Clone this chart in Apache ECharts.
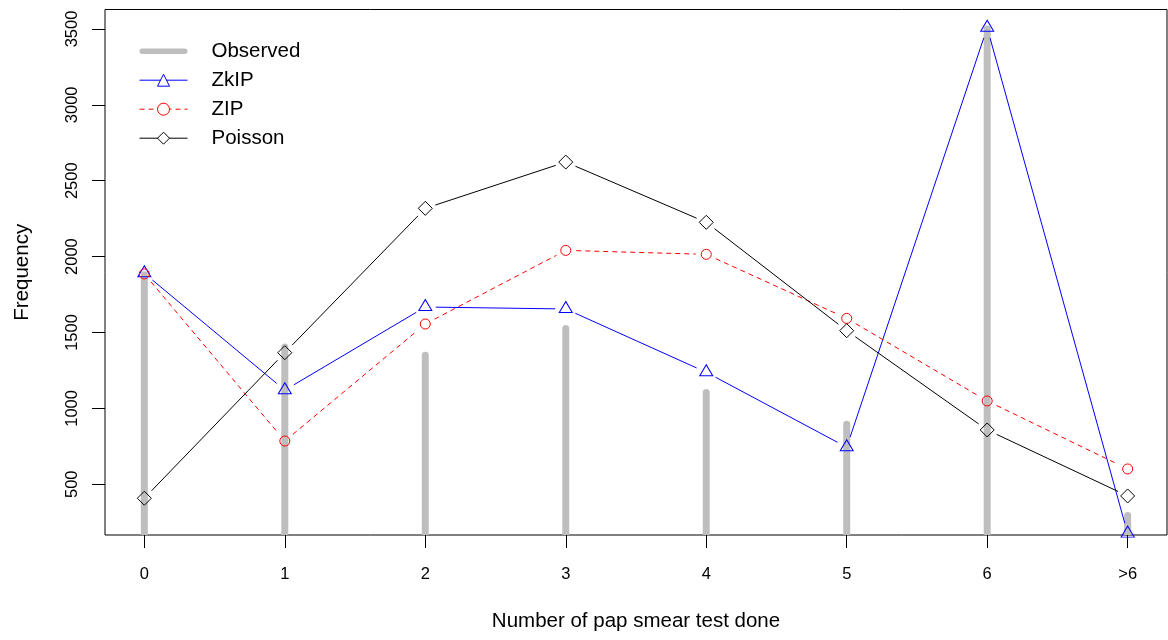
<!DOCTYPE html>
<html>
<head>
<meta charset="utf-8">
<script src="https://cdn.jsdelivr.net/npm/echarts@6/dist/echarts.min.js"></script>
<style>
  html, body { margin: 0; padding: 0; background: #fff; }
  #chart { width: 1168px; height: 640px; }
</style>
</head>
<body>
<div id="chart"></div>
<script>
// Number of pap smear tests: observed counts and fitted frequencies
const categories = ['0', '1', '2', '3', '4', '5', '6', '>6'];
const observed = [1880, 1405, 1350, 1526, 1105, 896, 3500, 294];
const zkip     = [1890, 1120, 1668, 1655, 1238, 744, 3508, 175];
const zip      = [1886, 785, 1556, 2041, 2015, 1593, 1049, 601];
const poisson  = [408, 1367, 2318, 2623, 2226, 1512, 858, 423];
const yTicks   = [500, 1000, 1500, 2000, 2500, 3000, 3500];

const FONT = "'Liberation Sans', Arial, Helvetica, sans-serif";
const GRAY = '#BEBEBE';
const BLUE = '#0000FF';
const RED = '#FF0000';
const BLACK = '#000000';
const GAP = 10.5;           // gap left around each marker by the connecting lines

// y range: observed range padded 4% on both ends
const obsMin = Math.min(...observed), obsMax = Math.max(...observed);
const pad = 0.04 * (obsMax - obsMin);
const yMin = obsMin - pad, yMax = obsMax + pad;
const xIdx = categories.map((_, i) => i);

const pairs = vals => vals.map((v, i) => [i, v]);

// segments between consecutive points, shortened so they stop short of the markers
function gapLines(vals, color, dash) {
  return {
    type: 'custom',
    silent: true,
    clip: true,
    z: 3,
    data: pairs(vals),
    renderItem(params, api) {
      const i = params.dataIndex;
      if (i >= vals.length - 1) return null;
      const a = api.coord([i, vals[i]]);
      const b = api.coord([i + 1, vals[i + 1]]);
      const dx = b[0] - a[0], dy = b[1] - a[1];
      const len = Math.hypot(dx, dy);
      if (len <= 2 * GAP) return null;
      const ux = dx / len, uy = dy / len;
      return {
        type: 'line',
        shape: { x1: a[0] + ux * GAP, y1: a[1] + uy * GAP, x2: b[0] - ux * GAP, y2: b[1] - uy * GAP },
        style: { stroke: color, lineWidth: 1, lineDash: dash || null, fill: null }
      };
    }
  };
}

function markers(name, vals, symbol, size, color, offset) {
  return {
    type: 'line',
    name: name,
    data: pairs(vals),
    symbol: symbol,
    symbolSize: size,
    symbolOffset: offset || [0, 0],
    showAllSymbol: true,
    silent: true,
    z: 4,
    itemStyle: { color: 'rgba(0,0,0,0)', borderColor: color, borderWidth: 1 },
    lineStyle: { opacity: 0 }
  };
}

const chart = echarts.init(document.getElementById('chart'), null, { renderer: 'canvas' });

chart.setOption({
  animation: false,
  backgroundColor: '#fff',
  textStyle: { fontFamily: FONT },
  grid: {
    left: 105, right: 1, top: 9.5, bottom: 105,
    show: true, borderColor: BLACK, borderWidth: 1, backgroundColor: 'transparent'
  },
  legend: {
    orient: 'vertical',
    left: 139, top: 40.7,
    padding: 0,
    itemWidth: 48, itemHeight: 15, itemGap: 8,
    selectedMode: false,
    textStyle: { fontFamily: FONT, fontSize: 20.5, color: BLACK, lineHeight: 20, padding: [0, 0, 0, 19] },
    data: [
      { name: 'Observed', icon: 'path://M3,0H49A3,3,0,0,1,49,6H3A3,3,0,0,1,3,0Z', itemStyle: { color: GRAY } },
      { name: 'ZkIP', itemStyle: { color: '#fff', borderColor: BLUE, borderWidth: 1 },
        lineStyle: { color: BLUE, width: 1, opacity: 1, type: 'solid' } },
      { name: 'ZIP', itemStyle: { color: '#fff', borderColor: RED, borderWidth: 1 },
        lineStyle: { color: RED, width: 1, opacity: 1, type: [5, 4] } },
      { name: 'Poisson', itemStyle: { color: '#fff', borderColor: BLACK, borderWidth: 1 },
        lineStyle: { color: BLACK, width: 1, opacity: 1, type: 'solid' } }
    ]
  },
  xAxis: {
    type: 'value',
    min: -0.28, max: 7.28,
    axisLine: { show: false, onZero: false },
    splitLine: { show: false },
    axisTick: { show: true, length: 13, customValues: xIdx, lineStyle: { color: BLACK } },
    axisLabel: {
      customValues: xIdx,
      formatter: v => categories[Math.round(v)],
      margin: 31, fontSize: 16.5, color: BLACK, fontFamily: FONT
    },
    name: 'Number of pap smear test done',
    nameLocation: 'middle',
    nameGap: 76,
    nameTextStyle: { fontSize: 20.5, color: BLACK, fontFamily: FONT }
  },
  yAxis: {
    type: 'value',
    min: yMin, max: yMax,
    axisLine: { show: false, onZero: false },
    splitLine: { show: false },
    axisTick: { show: true, length: 13, customValues: yTicks, lineStyle: { color: BLACK } },
    axisLabel: {
      customValues: yTicks,
      formatter: v => String(Math.round(v)),
      rotate: 90,
      margin: 24, fontSize: 16.5, color: BLACK, fontFamily: FONT
    },
    name: 'Frequency',
    nameLocation: 'middle',
    nameRotate: 90,
    nameGap: 72,
    nameTextStyle: { fontSize: 20.5, color: BLACK, fontFamily: FONT }
  },
  series: [
    {
      type: 'custom',
      name: 'Observed',
      silent: true,
      clip: true,
      z: 1,
      itemStyle: { color: GRAY },
      data: pairs(observed),
      renderItem(params, api) {
        const x = api.value(0), v = api.value(1);
        const top = api.coord([x, v]);
        const base = api.coord([x, 0]);
        return {
          type: 'line',
          shape: { x1: top[0], y1: base[1], x2: top[0], y2: top[1] },
          style: { stroke: GRAY, lineWidth: 7, lineCap: 'round', fill: null }
        };
      }
    },
    gapLines(zkip, BLUE),
    markers('ZkIP', zkip, 'triangle', [13, 11], BLUE, [0, -2]),
    gapLines(zip, RED, [5, 4]),
    markers('ZIP', zip, 'circle', 10, RED),
    gapLines(poisson, BLACK),
    markers('Poisson', poisson, 'diamond', 14, BLACK)
  ]
});
</script>
</body>
</html>
